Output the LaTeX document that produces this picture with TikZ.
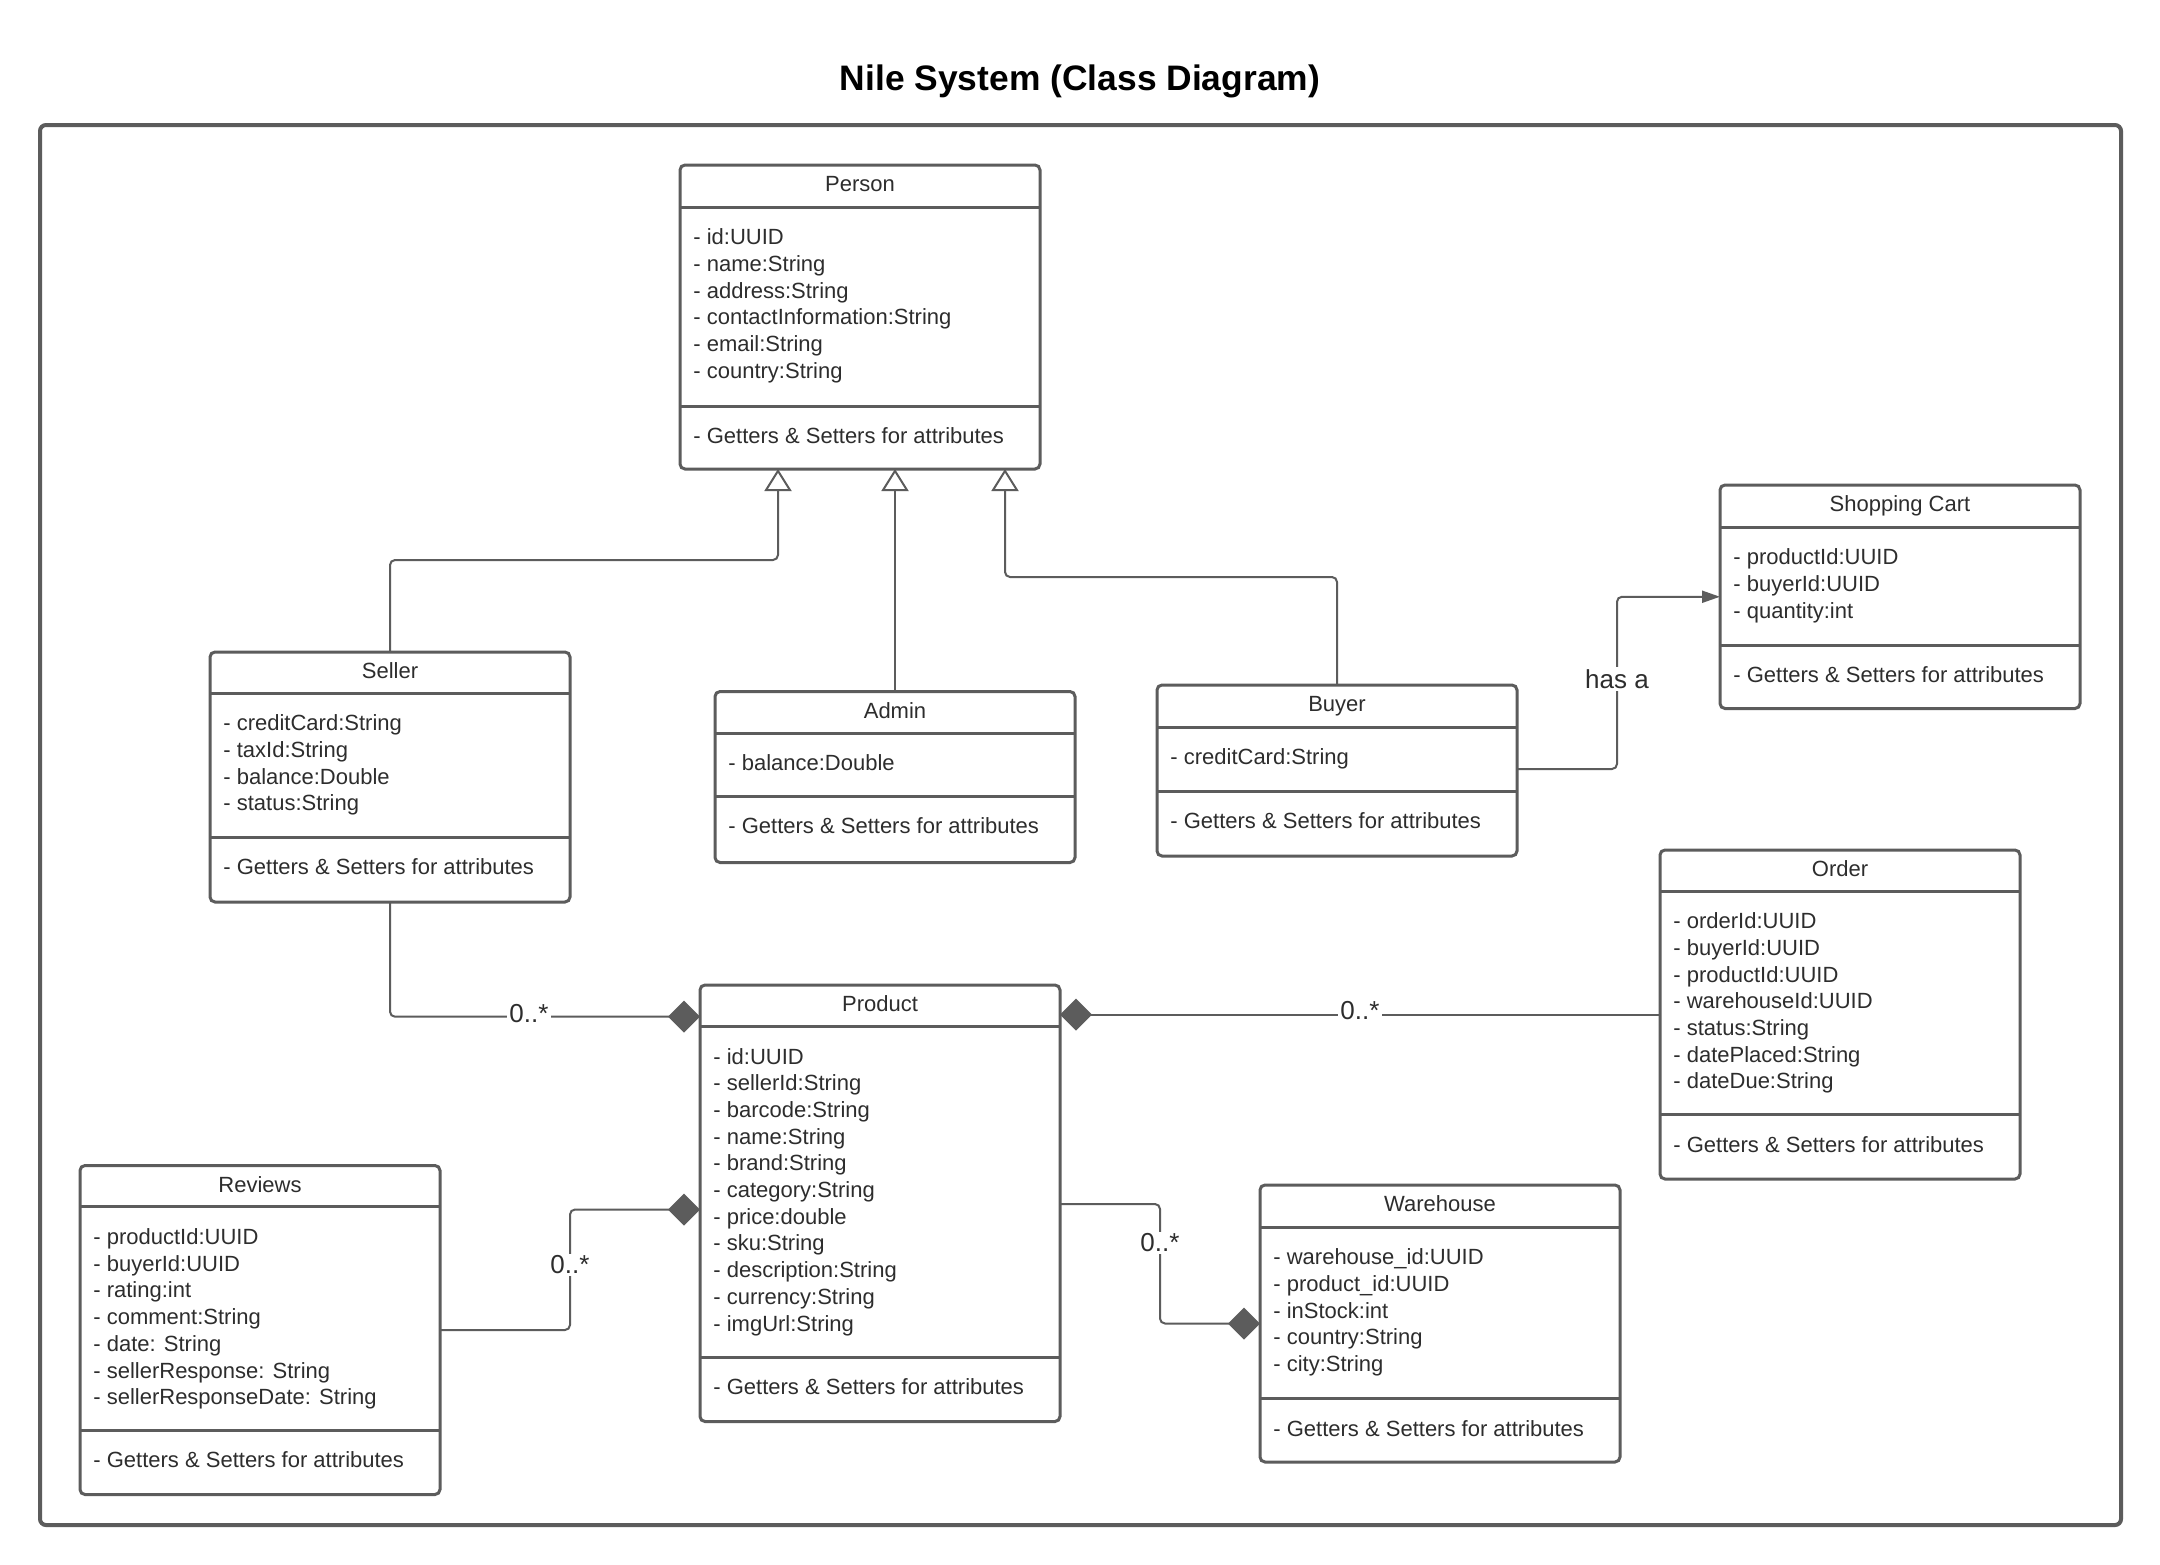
\documentclass[tikz,border=0pt]{standalone}
\usepackage{fontspec}
\setmainfont{Liberation Sans}
\usetikzlibrary{arrows.meta,calc}
\definecolor{linec}{RGB}{92,92,92}
\definecolor{txtc}{RGB}{45,45,45}
\tikzset{
 classbox/.style={draw=linec, line width=1.5pt, rounded corners=2.5pt, minimum width=180pt, inner sep=0pt, outer sep=0pt, fill=white},
 divider/.style={draw=linec, line width=1.5pt},
 ctitle/.style={font=\fontsize{11}{13}\selectfont, text=txtc, inner sep=0pt},
 cattr/.style={font=\fontsize{11}{13}\selectfont, text=txtc, inner sep=0pt},
 conn/.style={draw=linec, line width=1pt, rounded corners=2.5pt},
 gen/.style={conn, -{Triangle[open, length=11pt, width=13.5pt, fill=white]}},
 comp/.style={conn, -{Diamond[length=16pt, width=16pt, fill=linec]}},
 assoc/.style={conn, -{Triangle[length=9pt, width=6pt, fill=linec]}},
 lbl/.style={font=\fontsize{13}{15}\selectfont, text=txtc, fill=white, inner sep=1pt},
 frame/.style={draw=linec, line width=2pt, rounded corners=3pt},
}
\newcommand\umlclass[8]{%
  \node[classbox, minimum height=#4*0.5pt, anchor=north west] (#1) at (#2,#3) {};
  \draw[divider] ($(#1.north west)+(0,#5)$) -- ($(#1.north east)+(0,#5)$);
  \draw[divider] ($(#1.north west)+(0,#6)$) -- ($(#1.north east)+(0,#6)$);
  \node[ctitle, anchor=base] (#1-t) at ($(#1.north)+(0,26.5)$) {#7};
  \foreach \t [count=\n from 0] in {#8} {\node[cattr, anchor=base west] (#1-a\n) at ($(#1.north west)+(13,#5+37.7+26.7*\n)$) {\t};}
  \node[cattr, anchor=base west] (#1-m) at ($(#1.north west)+(13,#6+37.5)$) {- Getters \& Setters for attributes};
}
\begin{document}
\begin{tikzpicture}[x=0.5pt, y=-0.5pt]
\fill[white] (0,0) rectangle (2160,1565);
\useasboundingbox (0,0) rectangle (2160,1565);
\node[font=\bfseries\fontsize{17.7}{21}\selectfont, inner sep=0pt] (title) at (1080,81) {Nile System (Class Diagram)};
\draw[frame] (40,125) rectangle (2121,1525);

\umlclass{person}{680}{165}{304}{42}{241}{Person}{- id:UUID, - name:String, - address:String, - contactInformation:String, - email:String, - country:String}
\umlclass{seller}{210}{652}{250}{41}{185}{Seller}{- creditCard:String, - taxId:String, - balance:Double, - status:String}
\umlclass{admin}{715}{691.5}{171}{41.5}{104.5}{Admin}{- balance:Double}
\umlclass{buyer}{1157}{685}{171}{42}{106}{Buyer}{- creditCard:String}
\umlclass{cart}{1720}{485}{223.5}{42}{160}{Shopping Cart}{- productId:UUID, - buyerId:UUID, - quantity:int}
\umlclass{order}{1660}{850}{329}{41}{264.5}{Order}{- orderId:UUID, - buyerId:UUID, - productId:UUID, - warehouseId:UUID, - status:String, - datePlaced:String, - dateDue:String}
\umlclass{product}{700}{985}{436.5}{41.3}{372}{Product}{- id:UUID, - sellerId:String, - barcode:String, - name:String, - brand:String, - category:String, - price:double, - sku:String, - description:String, - currency:String, - imgUrl:String}
\umlclass{reviews}{80}{1165.5}{329}{41.3}{264.5}{Reviews}{- productId:UUID, - buyerId:UUID, - rating:int, - comment:String, - date: String, - sellerResponse: String, - sellerResponseDate: String}
\umlclass{warehouse}{1260}{1185}{277}{42}{213.5}{Warehouse}{- warehouse\_id:UUID, - product\_id:UUID, - inStock:int, - country:String, - city:String}

% generalizations
\draw[gen] (seller.north) |- ($(person.south)+(-82,91)$) -- ($(person.south)+(-82,0)$);
\draw[gen] (admin.north) -- (admin.north |- person.south);
\draw[gen] (buyer.north) |- ($(person.south)+(145,108)$) -- ($(person.south)+(145,0)$);

% association
\draw[assoc] ($(buyer.north east)+(0,84)$) -| ($(cart.west)+(-103,0)$) -- (cart.west);
\node[lbl] (hasa) at (1617,679) {has a};

% compositions
\draw[comp] (seller.south) |- ($(product.north west)+(0,31.7)$);
\node[lbl] (m1) at (529,1014) {0..*};
\draw[comp] (order.west) -- (order.west -| product.east);
\node[lbl] (m2) at (1360,1011) {0..*};
\draw[comp] (reviews.east) -| ($(product.north west)+(-130,224.5)$) -- ($(product.north west)+(0,224.5)$);
\node[lbl] (m3) at (570,1265) {0..*};
\draw[comp] ($(product.north east)+(0,219)$) -| ($(warehouse.west)+(-100,0)$) -- (warehouse.west);
\node[lbl] (m4) at (1160,1243) {0..*};
\end{tikzpicture}
\end{document}
